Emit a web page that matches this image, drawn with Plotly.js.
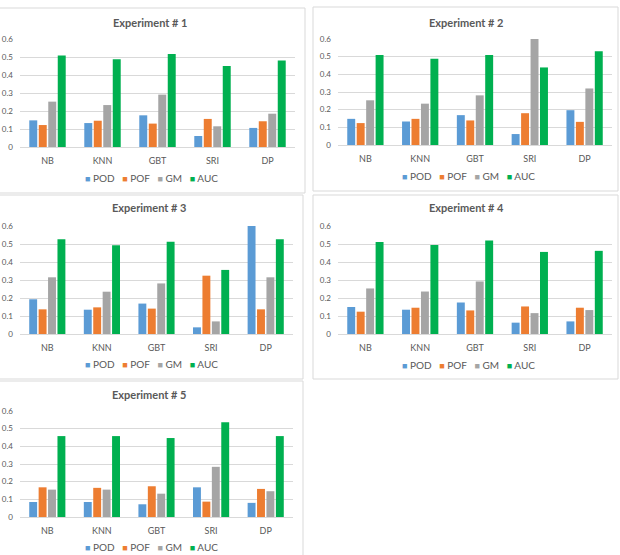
<!DOCTYPE html>
<html>
<head>
<meta charset="utf-8">
<script src="https://cdn.plot.ly/plotly-3.0.1.min.js"></script>
<style>html,body{margin:0;padding:0;background:#fff;}#chart{width:620px;height:555px;}</style>
</head>
<body>
<div id="chart"></div>
<script>
// ---- data ----
const categories = ['NB', 'KNN', 'GBT', 'SRI', 'DP'];
const seriesNames = ['POD', 'POF', 'GM', 'AUC'];
const titles = ['Experiment # 1', 'Experiment # 2', 'Experiment # 3', 'Experiment # 4', 'Experiment # 5'];

const exp1POD = [0.148, 0.133, 0.176, 0.061, 0.106];
const exp1POF = [0.122, 0.146, 0.130, 0.156, 0.143];
const exp1GM  = [0.252, 0.233, 0.291, 0.115, 0.185];
const exp1AUC = [0.509, 0.487, 0.517, 0.450, 0.480];

const exp2POD = [0.148, 0.133, 0.169, 0.062, 0.197];
const exp2POF = [0.124, 0.148, 0.139, 0.180, 0.131];
const exp2GM  = [0.253, 0.234, 0.281, 0.600, 0.320];
const exp2AUC = [0.510, 0.488, 0.510, 0.439, 0.530];

const exp3POD = [0.193, 0.135, 0.169, 0.037, 0.600];
const exp3POF = [0.137, 0.148, 0.141, 0.324, 0.137];
const exp3GM  = [0.315, 0.235, 0.281, 0.070, 0.315];
const exp3AUC = [0.526, 0.493, 0.513, 0.356, 0.526];

const exp4POD = [0.150, 0.135, 0.175, 0.063, 0.070];
const exp4POF = [0.124, 0.146, 0.131, 0.153, 0.146];
const exp4GM  = [0.253, 0.236, 0.292, 0.116, 0.133];
const exp4AUC = [0.511, 0.495, 0.520, 0.456, 0.462];

const exp5POD = [0.085, 0.085, 0.072, 0.168, 0.080];
const exp5POF = [0.168, 0.165, 0.174, 0.087, 0.159];
const exp5GM  = [0.155, 0.155, 0.132, 0.284, 0.146];
const exp5AUC = [0.458, 0.458, 0.447, 0.536, 0.458];

// ---- styles / layout ----
const colors = ['#5B9BD5', '#ED7D31', '#A5A5A5', '#00B050'];
const W = 620, H = 555;
const FONT = 'Lato, "Open Sans", "Liberation Sans", sans-serif';
const TXT = '#595959';
const GRID = '#d9d9d9';

const experiments = [
  [exp1POD, exp1POF, exp1GM, exp1AUC],
  [exp2POD, exp2POF, exp2GM, exp2AUC],
  [exp3POD, exp3POF, exp3GM, exp3AUC],
  [exp4POD, exp4POF, exp4GM, exp4AUC],
  [exp5POD, exp5POF, exp5GM, exp5AUC]
];

// panel geometry in pixels
const panels = [
  {px0: 20,  px1: 295, top: 39,  bot: 147, titleY: 22,  titleX: 150, legY: 178, legX: 151, box: [-5, 8, 305, 193]},
  {px0: 338, px1: 612, top: 39,  bot: 145, titleY: 22,  titleX: 467, legY: 176, legX: 468, box: [313, 7, 618, 191]},
  {px0: 20,  px1: 293, top: 226, bot: 334, titleY: 208, titleX: 149, legY: 364, legX: 151, box: [-5, 195, 303, 379]},
  {px0: 338, px1: 612, top: 226, bot: 334, titleY: 208, titleX: 467, legY: 365, legX: 468, box: [313, 195, 618, 379]},
  {px0: 20,  px1: 293, top: 411, bot: 517, titleY: 394, titleX: 149, legY: 547, legX: 151, box: [-5, 381, 303, 565]}
];

const px = x => x / W;
const py = y => 1 - y / H;

const traces = [];
const layout = {
  width: W, height: H,
  margin: {l: 0, r: 0, t: 0, b: 0},
  paper_bgcolor: '#ffffff',
  plot_bgcolor: '#ffffff',
  barmode: 'group',
  bargap: 0.31,
  bargroupgap: 0.16,
  showlegend: false,
  font: {family: FONT, color: TXT},
  annotations: [],
  shapes: []
};

experiments.forEach((series, p) => {
  const g = panels[p];
  const sfx = p === 0 ? '' : String(p + 1);
  series.forEach((vals, s) => {
    traces.push({
      type: 'bar',
      name: seriesNames[s],
      x: categories,
      y: vals,
      xaxis: 'x' + sfx,
      yaxis: 'y' + sfx,
      marker: {color: colors[s], line: {width: 0}},
      hoverinfo: 'x+y+name'
    });
  });
  layout['xaxis' + sfx] = {
    domain: [px(g.px0), px(g.px1)],
    anchor: 'y' + sfx,
    type: 'category',
    showgrid: false,
    zeroline: false,
    showline: true,
    linecolor: GRID,
    linewidth: 1,
    ticks: '',
    ticklabelstandoff: 5,
    tickfont: {family: FONT, size: 9, color: TXT},
    fixedrange: true
  };
  layout['yaxis' + sfx] = {
    domain: [py(g.bot), py(g.top)],
    anchor: 'x' + sfx,
    range: [0, 0.6],
    dtick: 0.1,
    tick0: 0,
    showgrid: true,
    gridcolor: GRID,
    gridwidth: 1,
    zeroline: false,
    showline: false,
    ticks: '',
    ticklabelstandoff: 6,
    tickfont: {family: FONT, size: 8, color: TXT},
    fixedrange: true
  };
  // panel title
  layout.annotations.push({
    text: '<b>' + titles[p] + '</b>',
    xref: 'paper', yref: 'paper',
    x: px(g.titleX), y: py(g.titleY),
    xanchor: 'center', yanchor: 'middle',
    showarrow: false,
    font: {family: FONT, size: 11, color: TXT}
  });
  // legend row
  const legText = seriesNames.map((n, i) =>
    '<span style="color:' + colors[i] + ';font-size:9px">■</span>&nbsp;' + n
  ).join('&nbsp;&nbsp;&nbsp;');
  layout.annotations.push({
    text: legText,
    xref: 'paper', yref: 'paper',
    x: px(g.legX), y: py(g.legY),
    xanchor: 'center', yanchor: 'middle',
    showarrow: false,
    font: {family: FONT, size: 10, color: TXT}
  });
  // panel border
  layout.shapes.push({
    type: 'rect', xref: 'paper', yref: 'paper', layer: 'below',
    x0: px(g.box[0]), x1: px(g.box[2]), y0: py(g.box[3]), y1: py(g.box[1]),
    line: {color: GRID, width: 1}, fillcolor: 'rgba(0,0,0,0)'
  });
});

Plotly.newPlot('chart', traces, layout, {displayModeBar: false, staticPlot: true});
</script>
</body>
</html>
